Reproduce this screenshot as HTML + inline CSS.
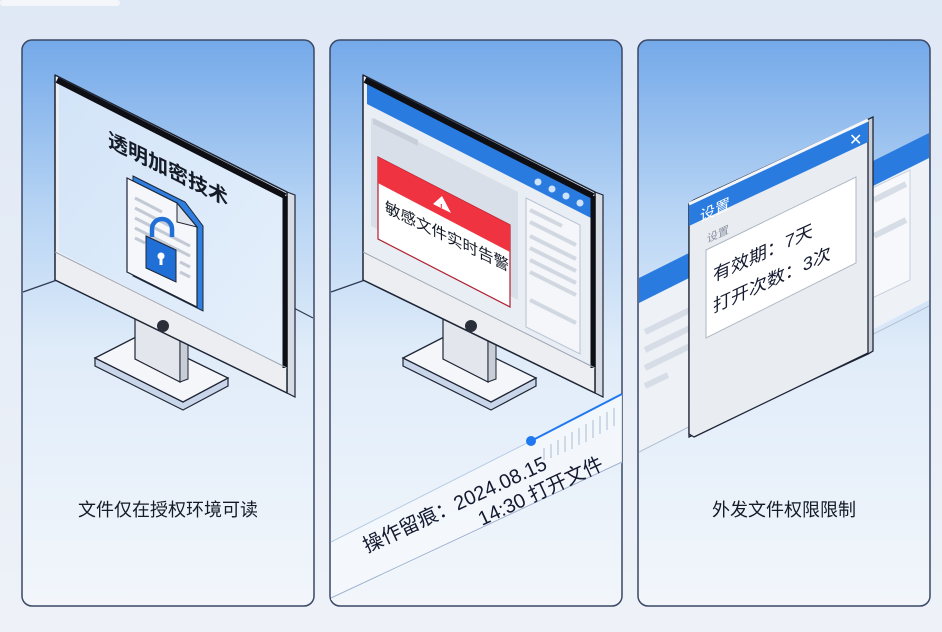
<!DOCTYPE html>
<html><head><meta charset="utf-8"><style>
html,body{margin:0;padding:0;background:#eaf0f8;}
svg{display:block}
text{font-family:"Liberation Sans","Noto Sans CJK SC",sans-serif;}
</style></head><body>
<svg width="942" height="632" viewBox="0 0 942 632" xmlns="http://www.w3.org/2000/svg">
<defs>
<linearGradient id="bg" x1="0" y1="0" x2="0" y2="1">
<stop offset="0" stop-color="#dfe8f5"/><stop offset="1" stop-color="#eef2f8"/></linearGradient>
<linearGradient id="pg" x1="0" y1="0" x2="0" y2="1">
<stop offset="0" stop-color="#74a9e9"/><stop offset="0.3" stop-color="#b7d4f4"/><stop offset="0.55" stop-color="#e0ecf9"/><stop offset="1" stop-color="#f2f6fb"/></linearGradient>
<linearGradient id="scr" x1="0" y1="0" x2="1" y2="1">
<stop offset="0" stop-color="#d2e4f8"/><stop offset="1" stop-color="#e6f0fb"/></linearGradient>
</defs>
<rect width="942" height="632" fill="url(#bg)"/>
<rect x="0" y="0" width="120" height="6" rx="3" fill="#f4f6fa"/>

<rect x="22" y="40" width="292" height="566" rx="10" fill="url(#pg)" stroke="#3b4866" stroke-width="1.5"/>
<rect x="330" y="40" width="292" height="566" rx="10" fill="url(#pg)" stroke="#3b4866" stroke-width="1.5"/>
<rect x="638" y="40" width="292" height="566" rx="10" fill="url(#pg)" stroke="#3b4866" stroke-width="1.5"/>

<!-- ===== Monitor 1 ===== -->
<g id="mon1">
<polyline points="23,292 57,280" fill="none" stroke="#2e3a55" stroke-width="1.2"/>
<polyline points="288,305 313,318" fill="none" stroke="#2e3a55" stroke-width="1.2"/>
<polygon points="95,358 95,366 183,410 228,386 228,378 183,402" fill="#c9d6ea" stroke="#1e2535" stroke-width="1.2"/>
<polygon points="95,358 140,335 228,378 183,402" fill="#f4f6f9" stroke="#1e2535" stroke-width="1.3"/>
<polygon points="135,310 180,333 180,382 135,359" fill="#e3e6ec" stroke="#1e2535" stroke-width="1.2"/>
<polygon points="180,333 188,330 188,379 180,382" fill="#c8cdd6" stroke="#1e2535" stroke-width="1"/>
<polygon points="287,192 295,195 295,397 287,393" fill="#d6dbe4" stroke="#1e2535" stroke-width="1.2"/>
<polygon points="55,75 287,192 287,393 55,280" fill="#eceef2" stroke="#1e2535" stroke-width="1.5" stroke-linejoin="round"/>
<polygon points="59,84 283,198 283,366 59,252" fill="url(#scr)"/>
<line x1="57" y1="80" x2="285" y2="196" stroke="#0d0f14" stroke-width="6"/>
<line x1="285" y1="196" x2="285" y2="368" stroke="#0d0f14" stroke-width="5"/>
<line x1="55" y1="252" x2="287" y2="368" stroke="#9aa3b2" stroke-width="1"/>
<circle cx="163" cy="326" r="6" fill="#2a2f3a"/>
<polygon points="133,176 185,202 203,226 203,311 133,276" fill="#2f7fe0" stroke="#1e2535" stroke-width="1"/>
<polygon points="127,178 177,203 197,227 197,307 127,272" fill="#f5f7fa" stroke="#1e2535" stroke-width="1.2"/>
<polygon points="177,203 177,222 197,227" fill="#dfe4ec" stroke="#1e2535" stroke-width="1"/>
<g stroke="#c3cad6" stroke-width="3">
<line x1="135" y1="198" x2="162" y2="212"/><line x1="135" y1="208" x2="170" y2="226"/>
<line x1="135" y1="218" x2="190" y2="246"/><line x1="135" y1="228" x2="190" y2="256"/>
<line x1="135" y1="238" x2="145" y2="243"/><line x1="180" y1="262" x2="190" y2="267"/>
<line x1="180" y1="272" x2="190" y2="277"/>
</g>
<path d="M152,237 v-8 a10,10 0 0 1 20,0 v8" fill="none" stroke="#1f6fd6" stroke-width="4.5"/>
<polygon points="146,236 176,250 176,282 146,268" fill="#1f6fd6" stroke="#1e2535" stroke-width="1"/>
<circle cx="161" cy="256" r="3.5" fill="#fff"/><rect x="159.5" y="257" width="3" height="8" fill="#fff"/>
<text transform="matrix(1,0.5,0,1,108,146)" font-size="20" font-weight="bold" fill="#141a26">透明加密技术</text>
</g>

<!-- ===== Monitor 2 ===== -->
<g transform="translate(308,0)">
<polyline points="23,292 57,280" fill="none" stroke="#2e3a55" stroke-width="1.2"/>
<polygon points="95,358 95,366 183,410 228,386 228,378 183,402" fill="#c9d6ea" stroke="#1e2535" stroke-width="1.2"/>
<polygon points="95,358 140,335 228,378 183,402" fill="#f4f6f9" stroke="#1e2535" stroke-width="1.3"/>
<polygon points="135,310 180,333 180,382 135,359" fill="#e3e6ec" stroke="#1e2535" stroke-width="1.2"/>
<polygon points="180,333 188,330 188,379 180,382" fill="#c8cdd6" stroke="#1e2535" stroke-width="1"/>
<polygon points="287,192 295,195 295,397 287,393" fill="#d6dbe4" stroke="#1e2535" stroke-width="1.2"/>
<polygon points="55,75 287,192 287,393 55,280" fill="#eceef2" stroke="#1e2535" stroke-width="1.5" stroke-linejoin="round"/>
<polygon points="59,84 283,198 283,366 59,252" fill="#e9eef5"/>
<polygon points="59,84 283,198 283,218 59,104" fill="#2a7be0"/>
<polygon points="63,118 210,192 210,300 63,226" fill="#d9dfe8"/>
<polygon points="65,118 110,140 110,146 65,124" fill="#c8cfda"/>
<line x1="57" y1="80" x2="285" y2="196" stroke="#0d0f14" stroke-width="6"/>
<line x1="285" y1="196" x2="285" y2="368" stroke="#0d0f14" stroke-width="5"/>
<line x1="55" y1="252" x2="287" y2="368" stroke="#9aa3b2" stroke-width="1"/>
<g fill="#cfe2fb"><circle cx="230" cy="182" r="3.5"/><circle cx="244" cy="189" r="3.5"/><circle cx="258" cy="196" r="3.5"/><circle cx="272" cy="203" r="3.5"/></g>
<polygon points="218,198 272,225 272,354 218,327" fill="#f4f6f9" stroke="#b8c2d2" stroke-width="1"/>
<g stroke="#d2d8e2" stroke-width="4">
<line x1="222" y1="210" x2="254" y2="226"/><line x1="222" y1="222" x2="268" y2="245"/>
<line x1="222" y1="236" x2="268" y2="259"/><line x1="222" y1="248" x2="268" y2="271"/>
<line x1="222" y1="260" x2="268" y2="283"/><line x1="222" y1="272" x2="268" y2="295"/>
<line x1="222" y1="300" x2="268" y2="323"/>
</g>
<polygon points="70,157 202,225 202,307 70,239" fill="#ffffff" stroke="#b02030" stroke-width="1.2"/>
<polygon points="70,157 202,225 202,252 70,183" fill="#ef3340"/>
<polygon points="134,196 143,213 125,204" fill="#fff"/>
<text x="132" y="210" font-size="8" font-weight="bold" fill="#ef3340">!</text>
<text transform="matrix(1,0.48,0,1,77,212)" font-size="15.5" fill="#141a26">敏感文件实时告警</text>
<circle cx="163" cy="326" r="6" fill="#2a2f3a"/>
</g>

<!-- timeline -->
<polygon points="331,542 531,440 622,394 622,463 331,600" fill="#f5f8fc" opacity="0.85"/>
<line x1="331" y1="542" x2="531" y2="441" stroke="#b5cbe8" stroke-width="1"/>
<line x1="531" y1="441" x2="622" y2="394" stroke="#1f78f0" stroke-width="2"/>
<line x1="331" y1="598" x2="622" y2="462" stroke="#9fb2d2" stroke-width="1"/>
<circle cx="531" cy="441" r="5" fill="#1f78f0"/>
<g stroke="#c6d2e4" stroke-width="1.6">
<line x1="544" y1="448" x2="544" y2="460"/><line x1="551" y1="444" x2="551" y2="458"/>
<line x1="558" y1="440" x2="558" y2="455"/><line x1="565" y1="436" x2="565" y2="452"/>
<line x1="572" y1="432" x2="572" y2="449"/><line x1="579" y1="428" x2="579" y2="445"/>
<line x1="586" y1="424" x2="586" y2="442"/><line x1="593" y1="420" x2="593" y2="438"/>
<line x1="600" y1="416" x2="600" y2="434"/><line x1="607" y1="412" x2="607" y2="430"/>
<line x1="614" y1="408" x2="614" y2="426"/>
</g>
<text transform="translate(367,553) rotate(-25)" font-size="20" fill="#141a30">操作留痕：2024.08.15</text>
<text transform="translate(482,526) rotate(-25)" font-size="20" fill="#141a30">14:30 打开文件</text>

<!-- ===== Panel 3 ===== -->
<polygon points="639,303 929,158 929,300 639,452" fill="#eef2f7"/>
<polygon points="639,278 929,133 929,158 639,303" fill="#2a7be0"/>
<line x1="639" y1="452" x2="929" y2="306" stroke="#b4c0d2" stroke-width="1"/>
<polygon points="868,190 910,170 910,280 868,300" fill="#f6f8fb" stroke="#c8d0dc" stroke-width="1"/>
<g stroke="#d7dde7" stroke-width="6">
<line x1="874" y1="200" x2="906" y2="184"/><line x1="874" y1="236" x2="906" y2="220"/>
<line x1="645" y1="332" x2="690" y2="310"/><line x1="645" y1="350" x2="690" y2="328"/>
<line x1="645" y1="368" x2="690" y2="346"/><line x1="645" y1="386" x2="668" y2="375"/>
</g>
<polygon points="689,203 694,200 873,117 873,351 868,354 689,437" fill="#c9cfd9" stroke="#1e2535" stroke-width="1.3"/>
<polygon points="689,205 868,121 868,353 694,437 689,434" fill="#e9ecf1" stroke="#1e2535" stroke-width="1.3" stroke-linejoin="round"/>
<polygon points="689,205 868,121 868,142 689,226" fill="#2a7be0"/>
<line x1="689" y1="204" x2="868" y2="120" stroke="#f4f6fa" stroke-width="3"/>
<text transform="matrix(1,-0.46,0,1,700,222)" font-size="15" fill="#ffffff">设置</text>
<text x="849" y="145" font-size="16" fill="#ffffff">✕</text>
<text transform="matrix(1,-0.46,0,1,707,243)" font-size="11" fill="#8a93a2">设置</text>
<polygon points="706,250 856,177 856,263 706,338" fill="#ffffff" stroke="#aeb6c4" stroke-width="1"/>
<text transform="matrix(1,-0.46,0,1,713,282)" font-size="18" fill="#141a30">有效期：7天</text>
<text transform="matrix(1,-0.46,0,1,713,313)" font-size="18" fill="#141a30">打开次数：3次</text>

<text x="168" y="516" font-size="18" fill="#141a26" text-anchor="middle">文件仅在授权环境可读</text>
<text x="784" y="516" font-size="18" fill="#141a26" text-anchor="middle">外发文件权限限制</text>
</svg>
</body></html>
